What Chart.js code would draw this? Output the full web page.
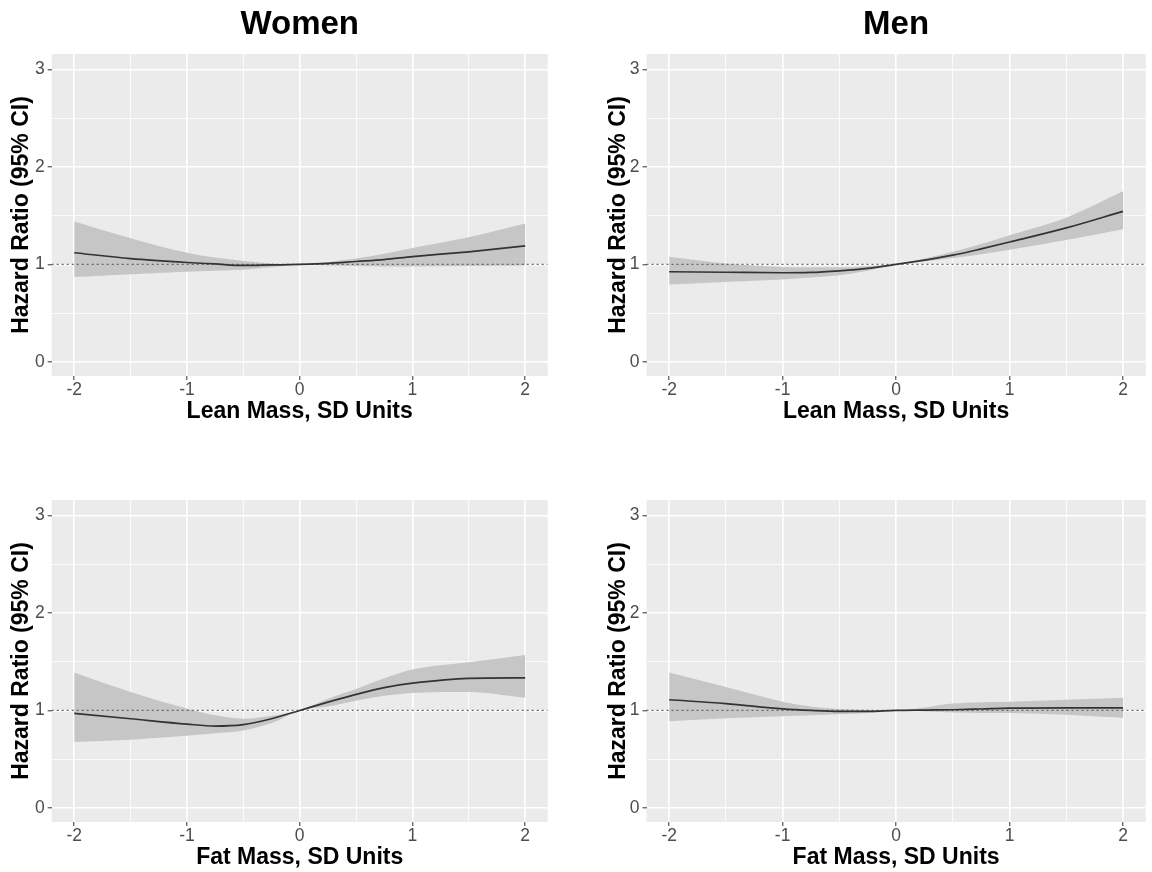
<!DOCTYPE html>
<html>
<head>
<meta charset="utf-8">
<script src="https://cdn.jsdelivr.net/npm/chart.js@4.4.0/dist/chart.umd.min.js"></script>
<style>
  html, body { margin: 0; padding: 0; background: #fff; overflow: hidden; }
  .panel { position: absolute; width: 576px; height: 436px; }
</style>
</head>
<body>
<div class="panel" style="left:0;top:0"><canvas id="leanWomen" width="576" height="436"></canvas></div>
<div class="panel" style="left:576px;top:0"><canvas id="leanMen" width="576" height="436"></canvas></div>
<div class="panel" style="left:0;top:446px"><canvas id="fatWomen" width="576" height="436"></canvas></div>
<div class="panel" style="left:576px;top:446px"><canvas id="fatMen" width="576" height="436"></canvas></div>
<script>
// dados
const sdUnits = [-2, -1.5, -1, -0.75, -0.5, -0.25, 0, 0.25, 0.5, 0.75, 1, 1.5, 2];
const xTicks = [-2, -1.5, -1, -0.5, 0, 0.5, 1, 1.5, 2];
const yTicks = [0, 0.5, 1, 1.5, 2, 2.5, 3];
const refHR = 1;

// Women - lean mass
const leanWomenHR    = [1.12, 1.06, 1.02, 1.005, 0.99, 0.995, 1.0, 1.01, 1.03, 1.05, 1.08, 1.13, 1.19];
const leanWomenUpper = [1.44, 1.27, 1.12, 1.07, 1.035, 1.01, 1.0, 1.025, 1.06, 1.11, 1.17, 1.28, 1.42];
const leanWomenLower = [0.87, 0.90, 0.925, 0.935, 0.945, 0.97, 1.0, 0.99, 0.985, 0.98, 0.98, 0.985, 0.99];

// Men - lean mass
const leanMenHR    = [0.925, 0.92, 0.915, 0.918, 0.935, 0.96, 1.0, 1.045, 1.095, 1.16, 1.23, 1.375, 1.545];
const leanMenUpper = [1.08, 1.01, 0.975, 0.97, 0.97, 0.985, 1.0, 1.06, 1.13, 1.21, 1.30, 1.48, 1.75];
const leanMenLower = [0.795, 0.82, 0.845, 0.865, 0.89, 0.935, 1.0, 1.03, 1.065, 1.105, 1.15, 1.25, 1.36];

// Women - fat mass
const fatWomenHR    = [0.97, 0.915, 0.86, 0.84, 0.855, 0.915, 1.0, 1.085, 1.165, 1.235, 1.28, 1.33, 1.335];
const fatWomenUpper = [1.39, 1.19, 1.02, 0.95, 0.915, 0.945, 1.0, 1.12, 1.22, 1.33, 1.42, 1.495, 1.57];
const fatWomenLower = [0.675, 0.70, 0.74, 0.765, 0.795, 0.87, 1.0, 1.04, 1.10, 1.15, 1.18, 1.19, 1.13];

// Men - fat mass
const fatMenHR    = [1.11, 1.07, 1.017, 1.0, 0.99, 0.99, 1.0, 1.004, 1.007, 1.015, 1.024, 1.027, 1.027];
const fatMenUpper = [1.39, 1.24, 1.09, 1.04, 1.015, 1.005, 1.0, 1.03, 1.07, 1.085, 1.09, 1.11, 1.13];
const fatMenLower = [0.89, 0.92, 0.94, 0.95, 0.96, 0.975, 1.0, 0.99, 0.98, 0.975, 0.973, 0.955, 0.925];

const xMin = -2.2, xMax = 2.2;
const yMin = -0.145, yMax = 3.16;
const fontFam = "'Liberation Sans', Arial, sans-serif";

// fundo cinzento do painel (estilo ggplot)
const panelBg = {
  id: "panelBg",
  beforeDraw(chart) {
    const { ctx, chartArea: a } = chart;
    ctx.save();
    ctx.fillStyle = "#ebebeb";
    ctx.fillRect(a.left, a.top, a.right - a.left, a.bottom - a.top);
    ctx.restore();
  }
};

const pts = (ys) => sdUnits.map((x, i) => ({ x: x, y: ys[i] }));
const isMajor = (v) => Number.isInteger(v);

function criarPainel(id, cfg) {
  const ctx = document.getElementById(id).getContext("2d");
  return new Chart(ctx, {
    type: "line",
    data: {
      datasets: [
        // order maior = desenhado por baixo
        { data: pts(cfg.lower), order: 4, borderWidth: 0, borderColor: "transparent", pointRadius: 0, fill: false, cubicInterpolationMode: "monotone" },
        { data: pts(cfg.upper), order: 3, borderWidth: 0, borderColor: "transparent", pointRadius: 0, fill: "-1", backgroundColor: "#c6c6c6", cubicInterpolationMode: "monotone" },
        { data: [{ x: xMin, y: refHR }, { x: xMax, y: refHR }], order: 2, borderColor: "#666", borderWidth: 1.2, borderDash: [2, 3], pointRadius: 0, fill: false },
        { data: pts(cfg.hr), order: 1, borderColor: "#333", borderWidth: 1.7, pointRadius: 0, fill: false, cubicInterpolationMode: "monotone" }
      ]
    },
    options: {
      responsive: false,
      animation: false,
      layout: { padding: { top: cfg.title ? 0 : 54, left: 0, right: 576 - cfg.right, bottom: 0 } },
      plugins: {
        legend: { display: false },
        tooltip: { enabled: false },
        title: {
          display: !!cfg.title,
          text: cfg.title || "",
          fullSize: false,
          color: "#000",
          font: { family: fontFam, size: 33, weight: "bold" },
          padding: { top: 5, bottom: 9.4 }
        }
      },
      scales: {
        x: {
          type: "linear",
          min: xMin,
          max: xMax,
          afterBuildTicks: (scale) => { scale.ticks = xTicks.map(v => ({ value: v })); },
          afterFit: (scale) => { scale.height = 60; },
          border: { display: false },
          grid: {
            color: "#fff",
            lineWidth: (c) => isMajor(c.tick.value) ? 1.6 : 0.8,
            tickColor: (c) => isMajor(c.tick.value) ? "#333" : "rgba(0,0,0,0)",
            tickLength: 4,
            tickWidth: 1
          },
          ticks: {
            autoSkip: false,
            maxRotation: 0,
            padding: 0,
            color: "#4d4d4d",
            font: { family: fontFam, size: 17.5 },
            callback: (v) => isMajor(v) ? String(v) : ""
          },
          title: {
            display: true,
            text: cfg.xTitle,
            color: "#000",
            font: { family: fontFam, size: 23, weight: "bold" },
            padding: { top: 0, bottom: 11 }
          }
        },
        y: {
          min: yMin,
          max: yMax,
          afterBuildTicks: (scale) => { scale.ticks = yTicks.map(v => ({ value: v })); },
          afterFit: (scale) => { scale.width = cfg.left; },
          border: { display: false },
          grid: {
            color: "#fff",
            lineWidth: (c) => isMajor(c.tick.value) ? 1.6 : 0.8,
            tickColor: (c) => isMajor(c.tick.value) ? "#333" : "rgba(0,0,0,0)",
            tickLength: 4,
            tickWidth: 1
          },
          ticks: {
            autoSkip: false,
            padding: 3,
            color: "#4d4d4d",
            font: { family: fontFam, size: 17.5 },
            callback: (v) => isMajor(v) ? String(v) : ""
          },
          title: {
            display: true,
            text: "Hazard Ratio (95% CI)",
            color: "#000",
            font: { family: fontFam, size: 23, weight: "bold" },
            padding: { top: cfg.yTitlePad, bottom: 0 }
          }
        }
      }
    },
    plugins: [panelBg]
  });
}

criarPainel("leanWomen", { title: "Women", xTitle: "Lean Mass, SD Units", left: 51.7, right: 547.7, yTitlePad: 7.9,
  hr: leanWomenHR, upper: leanWomenUpper, lower: leanWomenLower });
criarPainel("leanMen", { title: "Men", xTitle: "Lean Mass, SD Units", left: 70.5, right: 569.7, yTitlePad: 28.5,
  hr: leanMenHR, upper: leanMenUpper, lower: leanMenLower });
criarPainel("fatWomen", { title: null, xTitle: "Fat Mass, SD Units", left: 51.7, right: 547.7, yTitlePad: 7.9,
  hr: fatWomenHR, upper: fatWomenUpper, lower: fatWomenLower });
criarPainel("fatMen", { title: null, xTitle: "Fat Mass, SD Units", left: 70.5, right: 569.7, yTitlePad: 28.5,
  hr: fatMenHR, upper: fatMenUpper, lower: fatMenLower });
</script>
</body>
</html>
